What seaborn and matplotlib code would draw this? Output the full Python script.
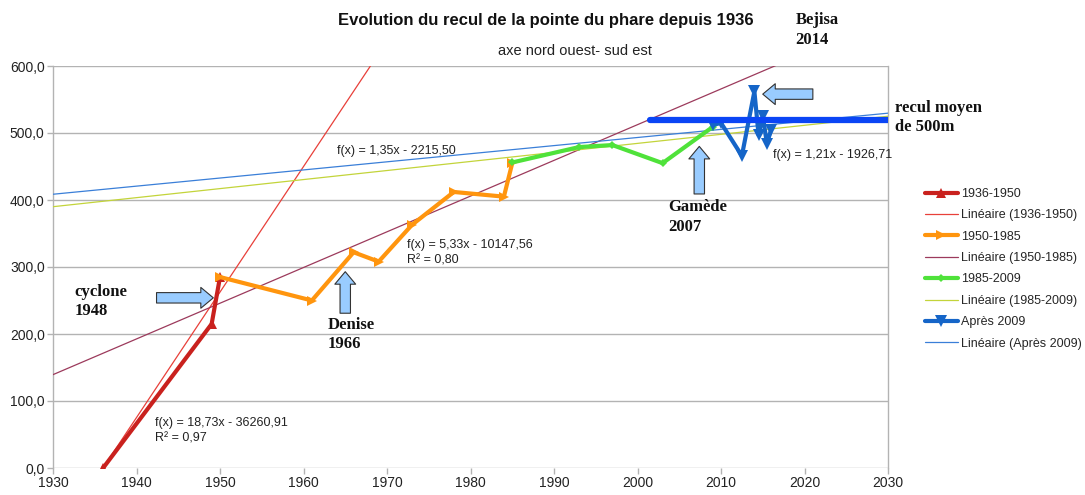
import numpy as np
import pandas as pd
import matplotlib
matplotlib.use("Agg")
import matplotlib.pyplot as plt
import seaborn as sns
from matplotlib.ticker import FuncFormatter

# ---------------- data ----------------
years_1936_1950 = [1936, 1949, 1950]
recul_1936_1950 = [0, 215, 285]

years_1950_1985 = [1950, 1961, 1966, 1969, 1973, 1978, 1984, 1985]
recul_1950_1985 = [285, 250, 322, 308, 363, 412, 405, 455]

years_1985_2009 = [1985, 1993, 1997, 2003, 2009]
recul_1985_2009 = [456, 479, 482, 455, 509]

years_apres_2009 = [2009, 2010, 2012.5, 2014, 2014.5, 2015, 2015.5, 2016]
recul_apres_2009 = [512, 515, 466, 562, 497, 526, 484, 505]

series_names = ["1936-1950", "1950-1985", "1985-2009", "Après 2009"]
trend_slopes = [18.73, 5.33, 1.35, 1.21]
trend_intercepts = [-36260.91, -10147.56, -2215.50, -1926.71]
trend_labels = ["f(x) = 18,73x - 36260,91\nR² = 0,97",
                "f(x) = 5,33x - 10147,56\nR² = 0,80",
                "f(x) = 1,35x - 2215,50",
                "f(x) = 1,21x - 1926,71"]

recul_moyen_years = [2001.5, 2030]
recul_moyen_value = [519, 519]

x_ticks = list(range(1930, 2031, 10))
y_ticks = [0, 100, 200, 300, 400, 500, 600]

title = "Evolution du recul de la pointe du phare depuis 1936"
subtitle = "axe nord ouest- sud est"

# ---------------- style ----------------
sns.set_theme(style="white")
plt.rcParams["font.family"] = ["Liberation Sans", "DejaVu Sans"]

fig = plt.figure(figsize=(10.85, 4.95), dpi=100)
ax = fig.add_axes([53 / 1085, 1 - 468 / 495, (888 - 53) / 1085, (468 - 66) / 495])

series_colors = ["#c9211e", "#ff950e", "#4fe23a", "#1565c8"]
series_markers = ["^", ">", "D", "v"]
series_msize = [7, 7, 4.5, 8]
trend_colors = ["#e8403a", "#9c3a5c", "#c3d43a", "#3a7fd8"]

series_x = [years_1936_1950, years_1950_1985, years_1985_2009, years_apres_2009]
series_y = [recul_1936_1950, recul_1950_1985, recul_1985_2009, recul_apres_2009]

xs = np.array([1930, 2030])
handles = []
labels = []
for i in range(4):
    df = pd.DataFrame({"annee": series_x[i], "recul": series_y[i]})
    sns.lineplot(data=df, x="annee", y="recul", ax=ax, color=series_colors[i],
                 linewidth=3, marker=series_markers[i], markersize=series_msize[i],
                 markeredgewidth=0, estimator=None, sort=False, zorder=5 + i)
    line_s = ax.lines[-1]
    tdf = pd.DataFrame({"annee": xs, "recul": trend_slopes[i] * xs + trend_intercepts[i]})
    sns.lineplot(data=tdf, x="annee", y="recul", ax=ax, color=trend_colors[i],
                 linewidth=0.9, estimator=None, zorder=3)
    line_t = ax.lines[-1]
    handles += [line_s, line_t]
    labels += [series_names[i], "Linéaire (%s)" % series_names[i]]

# mean retreat line
sns.lineplot(x=recul_moyen_years, y=recul_moyen_value, ax=ax, color="#0a45f5",
             linewidth=4.5, estimator=None, zorder=12)

ax.set_xlim(1930, 2030)
ax.set_ylim(0, 600)
ax.set_xticks(x_ticks)
ax.set_yticks(y_ticks)
ax.yaxis.set_major_formatter(FuncFormatter(lambda v, p: ("%.1f" % v).replace(".", ",")))
ax.set_xlabel("")
ax.set_ylabel("")
ax.grid(axis="y", color="#b3b3b3", linewidth=1)
ax.grid(axis="x", visible=False)
for s in ["left", "right"]:
    ax.spines[s].set_color("#b3b3b3")
    ax.spines[s].set_linewidth(1)
for s in ["top", "bottom"]:
    ax.spines[s].set_visible(False)
ax.tick_params(axis="both", which="major", length=4, width=1, color="#b3b3b3",
               labelsize=10, labelcolor="#222222", direction="out", pad=2, left=True, bottom=True)
ax.set_axisbelow(True)

# titles
fig.text(546 / 1085, 1 - 20 / 495, title, ha="center", va="center",
         fontsize=12, fontweight="bold", color="#111111")
fig.text(575 / 1085, 1 - 51 / 495, subtitle, ha="center", va="center",
         fontsize=10.5, color="#222222")

# equation texts
eq_pos = [(1942.2, 76), (1972.4, 342), (1964.0, 482), (2016.2, 476)]
for (x, y), t in zip(eq_pos, trend_labels):
    ax.text(x, y, t, fontsize=9, color="#222222", va="top", ha="left",
            linespacing=1.4, zorder=20)

# event labels
serif = dict(family=["Liberation Serif", "DejaVu Serif"], fontweight="bold",
             fontsize=12, color="#111111", va="top", ha="left", linespacing=1.3)
ax.text(1932.6, 275, "cyclone\n1948", **serif)
ax.text(1962.9, 226, "Denise\n1966", **serif)
ax.text(2003.7, 401, "Gamède\n2007", **serif)
ax.text(2018.9, 680, "Bejisa\n2014", clip_on=False, **serif)
ax.text(2030.8, 550, "recul moyen\nde 500m", clip_on=False, **serif)

# block arrows
arrow_kw = dict(arrowstyle="simple,head_length=1.2,head_width=2.0,tail_width=1.0",
                fc="#99ccff", ec="#333333", lw=0.8, shrinkA=0, shrinkB=0,
                mutation_scale=7.5)
ax.annotate("", xy=(1949.2, 254), xytext=(1942.4, 254), arrowprops=arrow_kw, zorder=15)
ax.annotate("", xy=(1965.0, 293), xytext=(1965.0, 231), arrowprops=arrow_kw, zorder=15)
ax.annotate("", xy=(2007.4, 480), xytext=(2007.4, 409), arrowprops=arrow_kw, zorder=15)
ax.annotate("", xy=(2015.0, 558), xytext=(2021.0, 558), arrowprops=arrow_kw, zorder=15)

# legend
leg = fig.legend(handles, labels, loc="upper left", bbox_to_anchor=(925 / 1085, 1 - 188 / 495),
                 frameon=False, fontsize=9, handlelength=2.6, handletextpad=0.25,
                 labelspacing=0.75, numpoints=1, borderaxespad=0, borderpad=0)

fig.savefig("out.png", dpi=100)
